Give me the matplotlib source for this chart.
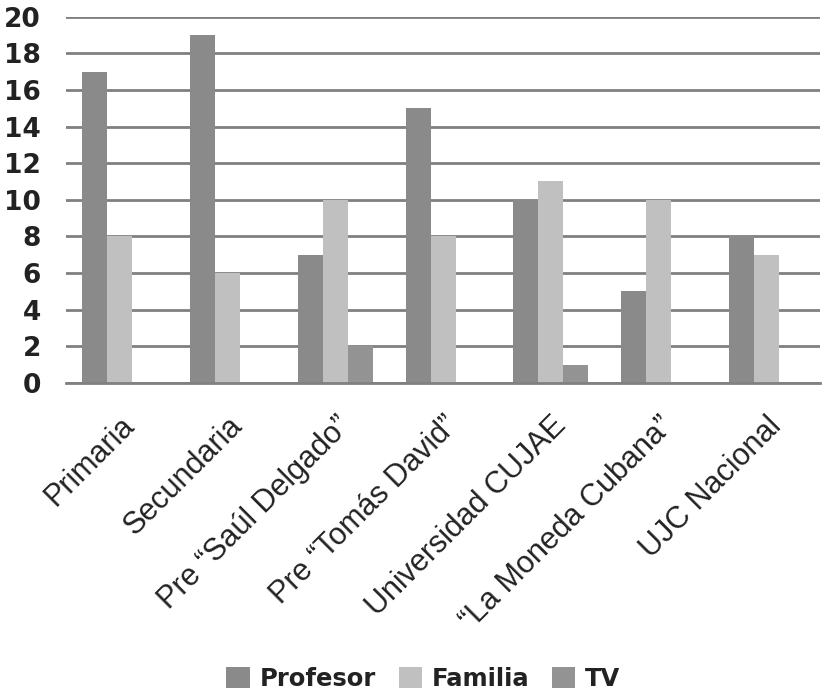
import matplotlib
matplotlib.use("Agg")
import matplotlib.pyplot as plt
import numpy as np
from matplotlib.patches import Patch

categories = ["Primaria", "Secundaria", "Pre \u201cSa\u00fal Delgado\u201d", "Pre \u201cTom\u00e1s David\u201d",
              "Universidad CUJAE", "\u201cLa Moneda Cubana\u201d", "UJC Nacional"]
profesor = [17, 19, 7, 15, 10, 5, 8]
familia = [8, 6, 10, 8, 11, 10, 7]
tv = [0, 0, 2, 0, 1, 0, 0]
series_names = ["Profesor", "Familia", "TV"]
series_colors = ["#8a8a8a", "#c0c0c0", "#939393"]
yticks = [0, 2, 4, 6, 8, 10, 12, 14, 16, 18, 20]

fig = plt.figure(figsize=(8.22, 6.95), dpi=100)
ax = fig.add_axes([0.080, 0.449, 0.918, 0.527])

x = np.arange(len(categories))
w = 0.232
for i, (vals, col, name) in enumerate(zip([profesor, familia, tv], series_colors, series_names)):
    ax.bar(x + (i - 1) * w, vals, width=w, color=col, zorder=3, label=name, linewidth=0)

ax.set_xlim(-0.5, len(categories) - 0.5)
ax.set_ylim(0, 20)
ax.set_yticks(yticks)
ax.yaxis.grid(True, color="#808080", linewidth=2.0, zorder=0)
ax.set_axisbelow(True)
for s in ["top", "right", "left"]:
    ax.spines[s].set_visible(False)
ax.spines["bottom"].set_color("#808080")
ax.spines["bottom"].set_linewidth(2.0)
ax.spines["bottom"].set_zorder(4)
ax.tick_params(axis="both", length=0)
ax.tick_params(axis="y", pad=18)
ax.tick_params(axis="x", pad=20)

for lab in ax.get_yticklabels():
    lab.set_fontfamily("DejaVu Sans")
    lab.set_fontsize(19)
    lab.set_fontweight("bold")
    lab.set_color("#222222")

ax.set_xticks(x)
ax.set_xticklabels(categories, rotation=45, ha="right", rotation_mode="anchor",
                   fontsize=22, fontfamily="Liberation Sans", color="#222222")

handles = [Patch(facecolor=c, edgecolor="none") for c in series_colors]
fig.legend(handles, series_names, loc="lower center", bbox_to_anchor=(0.515, -0.026),
           ncol=3, frameon=False, handlelength=0.95, handleheight=0.95, handletextpad=0.4,
           columnspacing=0.95,
           prop={"family": "DejaVu Sans", "weight": "bold", "size": 17.5})
for t in fig.legends[0].get_texts():
    t.set_color("#222222")

fig.savefig("out.png", dpi=100, facecolor="white")
